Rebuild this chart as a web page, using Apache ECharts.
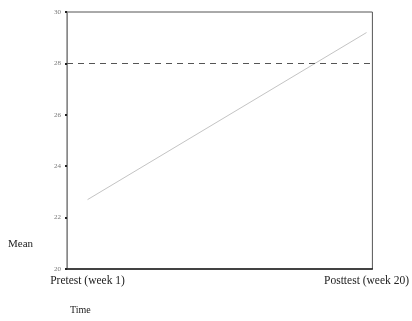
<!DOCTYPE html>
<html>
<head>
<meta charset="utf-8">
<script src="https://cdn.jsdelivr.net/npm/echarts@6/dist/echarts.min.js"></script>
<style>html,body{margin:0;padding:0;background:#fff}#c{width:412px;height:321px}</style>
</head>
<body>
<div id="c"></div>
<script>
var categories = ["Pretest (week 1)", "Posttest (week 20)"];
var weeks = [1, 20];
var means = [22.7, 29.2];
var referenceValue = 28;
var yTicks = [20, 22, 24, 26, 28, 30];

var chart = echarts.init(document.getElementById('c'), null, {renderer: 'canvas'});
var font = '"Liberation Serif", "DejaVu Serif", serif';
chart.setOption({
  animation: false,
  backgroundColor: '#ffffff',
  grid: {left: 67, right: 36, top: 12, bottom: 52, show: true, borderColor: '#555', borderWidth: 1, backgroundColor: 'transparent'},
  xAxis: {
    type: 'value', min: -0.4, max: 20.4,
    axisLine: {show: true, onZero: false, lineStyle: {color: '#222', width: 1.5}},
    axisTick: {show: false},
    splitLine: {show: false},
    axisLabel: {
      customValues: weeks,
      formatter: function (v) { var i = weeks.indexOf(v); return i >= 0 ? categories[i] : ''; },
      fontFamily: font, fontSize: 11.5, color: '#222', margin: 6
    }
  },
  yAxis: {
    type: 'value', min: 20, max: 30, interval: 2,
    axisLine: {show: true, onZero: false, lineStyle: {color: '#888', width: 1}},
    axisTick: {show: true, inside: false, length: 2, lineStyle: {color: '#222', width: 2}},
    splitLine: {show: false},
    axisLabel: {
      formatter: function (v) { return yTicks.indexOf(v) >= 0 ? String(v) : ''; },
      fontFamily: font, fontSize: 7, color: '#777', margin: 6
    }
  },
  series: [{
    type: 'line',
    data: weeks.map(function (w, i) { return [w, means[i]]; }),
    symbol: 'none',
    lineStyle: {color: '#c4c4c4', width: 1},
    markLine: {
      silent: true,
      symbol: ['none', 'none'],
      label: {show: false},
      lineStyle: {color: '#555', type: [6, 5], width: 1.2},
      data: [{yAxis: referenceValue}]
    }
  }],
  graphic: [
    {type: 'text', left: 8, top: 239, style: {text: 'Mean', font: '11px ' + font, fill: '#222'}},
    {type: 'text', left: 70, top: 305, style: {text: 'Time', font: '10px ' + font, fill: '#222'}}
  ]
});
</script>
</body>
</html>
